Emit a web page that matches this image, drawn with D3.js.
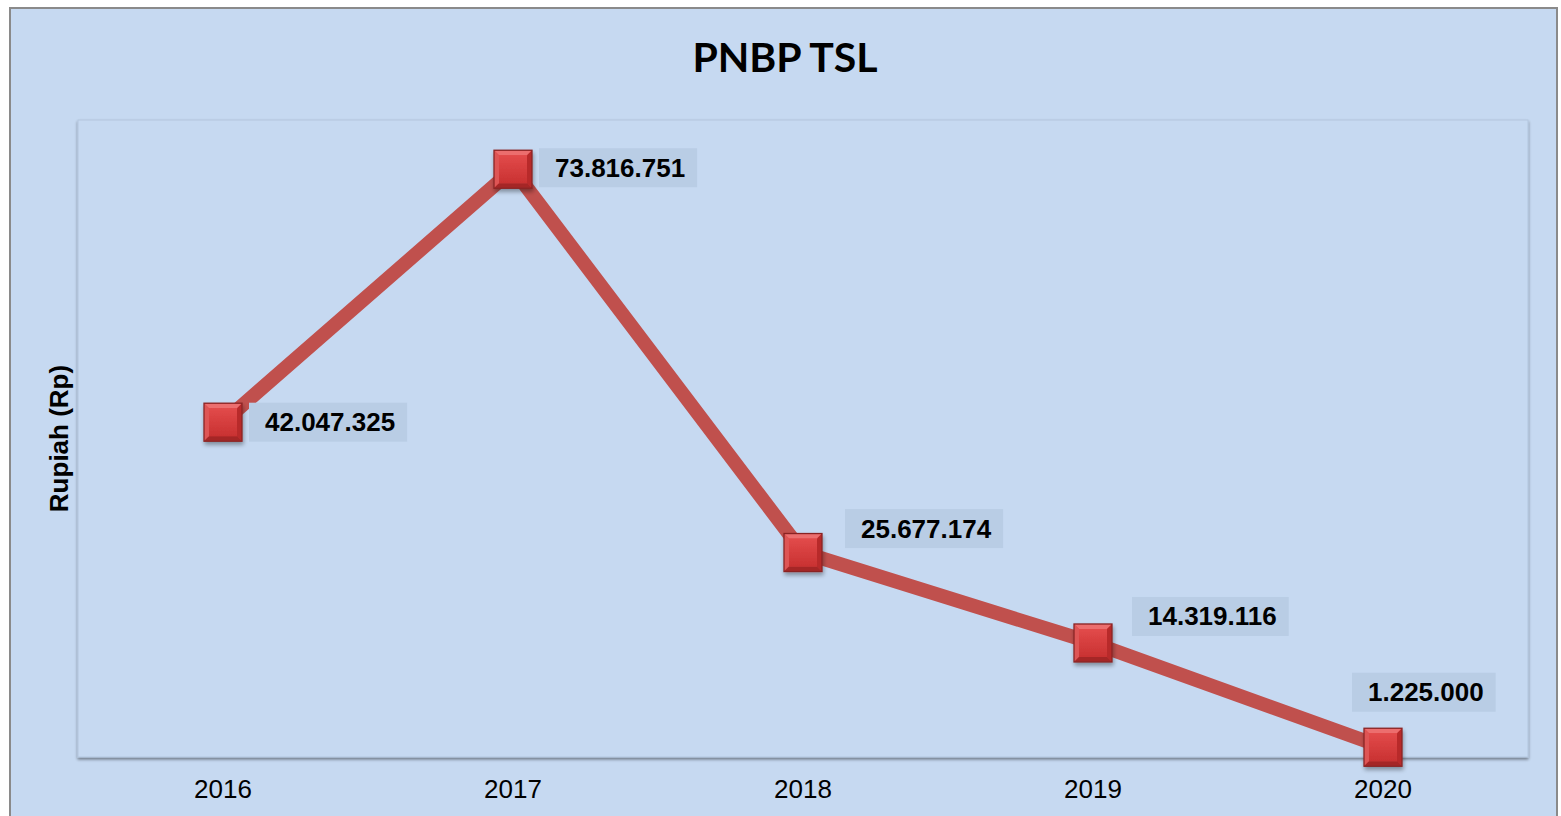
<!DOCTYPE html>
<html>
<head>
<meta charset="utf-8">
<script src="https://cdn.jsdelivr.net/npm/d3@7"></script>
<style>
  html, body { margin: 0; padding: 0; background: #ffffff; }
  svg { display: block; }
</style>
</head>
<body>
<svg id="chart" width="1561" height="816"></svg>
<script>
// PNBP TSL revenue per year (Rupiah)
const years = ["2016", "2017", "2018", "2019", "2020"];
const revenue = [42047325, 73816751, 25677174, 14319116, 1225000];
const yDomain = [0, 80000000];

// Label box placement relative to each point: [dx of box left, dy of box centre]
const labelOffsets = [[26, 0], [26, -1.5], [42, -24], [39, -26.5], [-31, -55]];

const fmt = v => d3.format(",")(v).replace(/,/g, ".");

const svg = d3.select("#chart");
const frame = { x: 10, y: 8, w: 1547, h: 820 };
const plot = { left: 78, top: 120, right: 1528, bottom: 757 };

const defs = svg.append("defs");

// soft shadow for the plot area
const sh = defs.append("filter").attr("id", "plotShadow")
  .attr("x", "-5%").attr("y", "-5%").attr("width", "110%").attr("height", "115%");
sh.append("feGaussianBlur").attr("in", "SourceAlpha").attr("stdDeviation", 1.6).attr("result", "b");
sh.append("feOffset").attr("in", "b").attr("dx", 0).attr("dy", 2).attr("result", "o");
sh.append("feComponentTransfer").attr("in", "o").attr("result", "s")
  .append("feFuncA").attr("type", "linear").attr("slope", 0.45);
const shm = sh.append("feMerge");
shm.append("feMergeNode").attr("in", "s");
shm.append("feMergeNode").attr("in", "SourceGraphic");

// marker shadow
const ms = defs.append("filter").attr("id", "markShadow")
  .attr("x", "-30%").attr("y", "-30%").attr("width", "170%").attr("height", "170%");
ms.append("feGaussianBlur").attr("in", "SourceAlpha").attr("stdDeviation", 2).attr("result", "b");
ms.append("feOffset").attr("in", "b").attr("dx", 1).attr("dy", 3).attr("result", "o");
ms.append("feComponentTransfer").attr("in", "o").attr("result", "s")
  .append("feFuncA").attr("type", "linear").attr("slope", 0.35);
const msm = ms.append("feMerge");
msm.append("feMergeNode").attr("in", "s");
msm.append("feMergeNode").attr("in", "SourceGraphic");

// marker face gradient
const fg = defs.append("linearGradient").attr("id", "faceGrad")
  .attr("x1", 0).attr("y1", 0).attr("x2", 0).attr("y2", 1);
fg.append("stop").attr("offset", "0%").attr("stop-color", "#e24a4a");
fg.append("stop").attr("offset", "100%").attr("stop-color", "#c93232");

// chart frame
svg.append("rect")
  .attr("x", frame.x).attr("y", frame.y).attr("width", frame.w).attr("height", frame.h)
  .attr("fill", "#c6d9f1").attr("stroke", "#8a8a8a").attr("stroke-width", 2);

// plot area
svg.append("rect")
  .attr("x", plot.left).attr("y", plot.top)
  .attr("width", plot.right - plot.left).attr("height", plot.bottom - plot.top)
  .attr("fill", "#c6d9f1").attr("stroke", "#b3c6de").attr("stroke-width", 1)
  .attr("filter", "url(#plotShadow)");

// title
svg.append("text")
  .attr("x", 785).attr("y", 72)
  .attr("text-anchor", "middle")
  .attr("font-family", "Lato, 'Open Sans', sans-serif")
  .attr("font-weight", "bold").attr("font-size", 41)
  .attr("fill", "#000")
  .text("PNBP TSL");

// scales
const x = d3.scaleBand().domain(years).range([plot.left, plot.right]);
const y = d3.scaleLinear().domain(yDomain).range([plot.bottom, plot.top]);
const cx = d => x(d) + x.bandwidth() / 2;

// x axis labels
const xAxis = d3.axisBottom(x).tickSize(0).tickPadding(0);
const gx = svg.append("g").attr("transform", `translate(0,${plot.bottom})`).call(xAxis);
gx.select(".domain").remove();
gx.selectAll("text")
  .attr("y", 41).attr("dy", 0)
  .attr("font-family", "'Liberation Sans', Arial, sans-serif")
  .attr("font-size", 26).attr("fill", "#000");

// y axis title
svg.append("text")
  .attr("transform", `translate(68,${(plot.top + plot.bottom) / 2}) rotate(-90)`)
  .attr("text-anchor", "middle")
  .attr("font-family", "'Liberation Sans', Arial, sans-serif")
  .attr("font-weight", "bold").attr("font-size", 26)
  .attr("fill", "#000")
  .text("Rupiah (Rp)");

const pts = years.map((yr, i) => ({ year: yr, value: revenue[i], i }));

// series line
const line = d3.line().x(d => cx(d.year)).y(d => y(d.value));
svg.append("path")
  .datum(pts)
  .attr("d", line)
  .attr("fill", "none")
  .attr("stroke", "#c0504d")
  .attr("stroke-width", 14)
  .attr("stroke-linejoin", "miter");

// bevelled square markers
const S = 38, B = 5;
const mk = svg.append("g").selectAll("g").data(pts).join("g")
  .attr("transform", d => `translate(${cx(d.year) - S / 2},${y(d.value) - S / 2})`)
  .attr("filter", "url(#markShadow)");
mk.append("rect").attr("width", S).attr("height", S).attr("fill", "url(#faceGrad)");
mk.append("polygon").attr("points", `0,0 ${S},0 ${S - B},${B} ${B},${B}`).attr("fill", "#ec6e6e");
mk.append("polygon").attr("points", `0,0 ${B},${B} ${B},${S - B} 0,${S}`).attr("fill", "#de5454");
mk.append("polygon").attr("points", `${S},0 ${S},${S} ${S - B},${S - B} ${S - B},${B}`).attr("fill", "#b82c2c");
mk.append("polygon").attr("points", `0,${S} ${B},${S - B} ${S - B},${S - B} ${S},${S}`).attr("fill", "#a52828");
mk.append("rect").attr("x", B).attr("y", B).attr("width", S - 2 * B).attr("height", S - 2 * B)
  .attr("fill", "url(#faceGrad)");
mk.append("rect").attr("width", S).attr("height", S).attr("fill", "none")
  .attr("stroke", "#8a2424").attr("stroke-width", 1.3);

// value labels with shaded boxes
const lab = svg.append("g").selectAll("g").data(pts).join("g")
  .attr("transform", d => {
    const o = labelOffsets[d.i];
    return `translate(${cx(d.year) + o[0]},${y(d.value) + o[1]})`;
  });
lab.append("rect").attr("class", "lbox");
lab.append("text")
  .attr("font-family", "'Liberation Sans', Arial, sans-serif")
  .attr("font-weight", "bold").attr("font-size", 26)
  .attr("fill", "#000")
  .attr("y", 9)
  .text(d => fmt(d.value));
lab.each(function () {
  const g = d3.select(this);
  const t = g.select("text");
  const w = t.node().getComputedTextLength();
  const padL = 16, padR = 12;
  t.attr("x", padL);
  g.select("rect")
    .attr("x", 0).attr("y", -19.5)
    .attr("width", w + padL + padR).attr("height", 39)
    .attr("fill", "#b9cde5");
});
</script>
</body>
</html>
